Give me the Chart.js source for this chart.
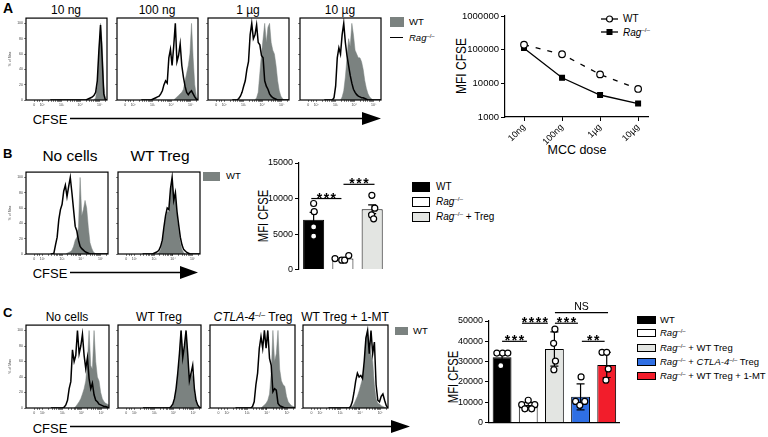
<!DOCTYPE html>
<html>
<head>
<meta charset="utf-8">
<title>CFSE dilution</title>
<script src="https://cdn.jsdelivr.net/npm/chart.js@4.4.1/dist/chart.umd.min.js"></script>
<style>
  html, body { margin: 0; padding: 0; }
  body { width: 768px; height: 437px; position: relative; overflow: hidden; background: #fff;
         font-family: 'Liberation Sans', Arial, Helvetica, sans-serif; color: #000; }
  .abs { position: absolute; white-space: nowrap; }
  .c { position: absolute; white-space: nowrap; line-height: 1; transform: translate(-50%, -50%); }
  .l { position: absolute; white-space: nowrap; line-height: 1; transform: translateY(-50%); }
  .panel { font-weight: bold; }
  .ytitle { position: absolute; white-space: nowrap; line-height: 1; font-size: 14px;
            transform: translate(-50%, -50%) rotate(-90deg) scaleX(0.8); }
  .sw { position: absolute; box-sizing: border-box; border: 1px solid #000; }
  sup { font-size: 62%; line-height: 0; vertical-align: 0.6em; }
</style>
</head>
<body>

<!-- panel letters -->
<div class="abs panel" style="left:3px;top:0px;font-size:14px">A</div>
<div class="abs panel" style="left:3px;top:146px;font-size:13px">B</div>
<div class="abs panel" style="left:3px;top:305px;font-size:13px">C</div>

<!-- histogram titles -->
<div class="c" style="left:66px;top:10px;font-size:12px">10 ng</div>
<div class="c" style="left:157px;top:10px;font-size:12px">100 ng</div>
<div class="c" style="left:248px;top:10px;font-size:12px">1 µg</div>
<div class="c" style="left:340px;top:10px;font-size:12px">10 µg</div>

<div class="c" style="left:70px;top:156px;font-size:15.5px">No cells</div>
<div class="c" style="left:160px;top:156px;font-size:15.5px">WT Treg</div>

<div class="c" style="left:67px;top:317px;font-size:12px">No cells</div>
<div class="c" style="left:159px;top:317px;font-size:12px">WT Treg</div>
<div class="c" style="left:253px;top:317px;font-size:12px"><i>CTLA-4</i><sup>–/–</sup> Treg</div>
<div class="c" style="left:345px;top:317px;font-size:12px">WT Treg + 1-MT</div>

<!-- histogram legends -->
<div class="abs" style="left:390px;top:17px;width:14px;height:10px;background:#7b8280"></div>
<div class="l" style="left:409px;top:22px;font-size:9.5px">WT</div>
<div class="abs" style="left:390px;top:37px;width:13px;height:1.3px;background:#000"></div>
<div class="l" style="left:409px;top:38px;font-size:9.5px"><i>Rag</i><sup>–/–</sup></div>

<div class="abs" style="left:203px;top:172px;width:17px;height:9px;background:#7b8280"></div>
<div class="l" style="left:226px;top:176px;font-size:9.5px">WT</div>

<div class="abs" style="left:395px;top:327px;width:13px;height:8px;background:#7b8280"></div>
<div class="l" style="left:413px;top:331px;font-size:9.5px">WT</div>

<!-- CFSE arrows -->
<div class="c" style="left:50px;top:119px;font-size:13px">CFSE</div>
<svg class="abs" style="left:68px;top:111px" width="315" height="16">
  <line x1="2" y1="7.5" x2="298" y2="7.5" stroke="#000" stroke-width="1.6"/>
  <polygon points="294,1 313,7.5 294,14" fill="#000"/>
</svg>
<div class="c" style="left:50px;top:273px;font-size:13px">CFSE</div>
<svg class="abs" style="left:68px;top:265px" width="132" height="16">
  <line x1="2" y1="7.5" x2="115" y2="7.5" stroke="#000" stroke-width="1.6"/>
  <polygon points="112,1 130,7.5 112,14" fill="#000"/>
</svg>
<div class="c" style="left:50px;top:428px;font-size:13px">CFSE</div>
<svg class="abs" style="left:68px;top:419px" width="344" height="16">
  <line x1="2" y1="7.5" x2="326" y2="7.5" stroke="#000" stroke-width="1.6"/>
  <polygon points="323,1 342,7.5 323,14" fill="#000"/>
</svg>

<!-- line chart texts -->
<div class="ytitle" style="left:460px;top:66px;font-size:15px">MFI CFSE</div>
<div class="c" style="left:577px;top:150px;font-size:12.5px">MCC dose</div>
<svg class="abs" style="left:600px;top:14px" width="20" height="24">
  <line x1="1" y1="5" x2="6" y2="5" stroke="#000" stroke-width="1.3"/>
  <line x1="13" y1="5" x2="18" y2="5" stroke="#000" stroke-width="1.3"/>
  <circle cx="9.5" cy="5" r="3" fill="#fff" stroke="#000" stroke-width="1.2"/>
  <line x1="1" y1="18" x2="18" y2="18" stroke="#000" stroke-width="1.3"/>
  <rect x="6.5" y="15" width="6" height="6" fill="#000"/>
</svg>
<div class="l" style="left:623px;top:19px;font-size:10px">WT</div>
<div class="l" style="left:623px;top:33px;font-size:10px"><i>Rag</i><sup>–/–</sup></div>

<!-- bar chart texts -->
<div class="ytitle" style="left:263px;top:216px">MFI CFSE</div>
<div class="sw" style="left:412px;top:182px;width:18px;height:10px;background:#000"></div>
<div class="l" style="left:436px;top:187px;font-size:10px">WT</div>
<div class="sw" style="left:412px;top:197px;width:18px;height:10px;background:#fff"></div>
<div class="l" style="left:436px;top:202px;font-size:10px"><i>Rag</i><sup>–/–</sup></div>
<div class="sw" style="left:412px;top:212px;width:18px;height:10px;background:#e3e5e2"></div>
<div class="l" style="left:436px;top:217px;font-size:10px"><i>Rag</i><sup>–/–</sup> + Treg</div>

<div class="ytitle" style="left:453px;top:377px">MFI CFSE</div>
<div class="sw" style="left:637px;top:316px;width:19px;height:8px;background:#000"></div>
<div class="l" style="left:660px;top:320px;font-size:9.5px">WT</div>
<div class="sw" style="left:637px;top:329px;width:19px;height:8px;background:#fff"></div>
<div class="l" style="left:660px;top:333px;font-size:9.5px"><i>Rag</i><sup>–/–</sup></div>
<div class="sw" style="left:637px;top:344px;width:19px;height:8px;background:#e3e5e2"></div>
<div class="l" style="left:660px;top:348px;font-size:9.5px"><i>Rag</i><sup>–/–</sup> + WT Treg</div>
<div class="sw" style="left:637px;top:358px;width:19px;height:8px;background:#2f6fe4"></div>
<div class="l" style="left:660px;top:362px;font-size:9.5px"><i>Rag</i><sup>–/–</sup> + <i>CTLA-4</i><sup>–/–</sup> Treg</div>
<div class="sw" style="left:637px;top:372px;width:19px;height:8px;background:#f21d2b"></div>
<div class="l" style="left:660px;top:376px;font-size:9.5px"><i>Rag</i><sup>–/–</sup> + WT Treg + 1-MT</div>

<script>
// ---- histogram data (CFSE channel, % of max) ----
const cfseBins = [30,32,34,36,38, 40,42,44,46,48, 50,52,54,56,58, 60,62,64,66,68, 70,72,74,76,78, 80,82,84,86,88, 90,92,94,96,98, 100];
const cfseTickAt = [10, 20, 44, 67, 91];
const cfseTickLabels = ['0', '10²', '10³', '10⁴', '10⁵'];
const pctTicks = [0, 20, 40, 60, 80, 100];

// A: MCC dose titration
const a10ngRag  = [0,0,0,0,0, 0,0,0,0,0, 0,0,0,0,0, 0,0,0,0,0, 0,0,0,1,2, 3,4,6,10,25, 65,98,55,8,0, 0];
const a10ngWT   = [0,0,0,0,0, 0,0,0,0,0, 0,0,0,0,0, 0,0,0,0,0, 0,0,0,0,0, 0,0,0,3,18, 60,100,75,20,2, 0];
const a100ngRag = [0,0,0,0,0, 0,0,1,2,3, 4,5,8,12,20, 25,22,55,66,45, 70,100,50,58,73, 45,30,18,10,7, 10,12,8,4,1, 0];
const a100ngWT  = [0,0,0,0,0, 0,0,0,0,0, 0,0,0,0,0, 0,0,0,0,0, 0,2,4,6,8, 10,14,25,35,45, 60,100,55,20,5, 0];
const a1ugRag   = [0,0,0,0,2, 5,10,18,25,40, 50,85,100,80,85, 98,75,72,58,55, 25,18,14,8,5, 3,2,1,0,0, 0,0,0,0,0, 0];
const a1ugWT    = [0,0,0,0,0, 0,0,0,0,0, 0,0,0,0,0, 3,10,35,60,80, 100,75,95,100,75, 65,60,45,25,12, 5,2,0,0,0, 0];
const a10ugRag  = [0,0,0,0,0, 0,3,18,55,68, 60,85,100,75,58, 45,32,22,14,10, 7,5,4,3,3, 2,1,0,0,0, 0,0,0,0,0, 0];
const a10ugWT   = [0,0,0,0,0, 0,0,0,0,0, 0,4,12,30,55, 80,70,100,85,65, 60,55,55,50,40, 25,15,8,4,2, 0,0,0,0,0, 0];

// B: Treg suppression
const bNoCellsRag = [0,0,1,12,22, 45,58,65,82,90, 75,88,100,80,58, 36,30,18,10,7, 5,3,2,1,0, 0,0,0,0,0, 0,0,0,0,0, 0];
const bNoCellsWT  = [0,0,0,0,0, 0,0,0,0,0, 1,2,3,5,10, 18,22,35,100,50, 58,70,60,35,15, 8,3,1,0,0, 0,0,0,0,0, 0];
const bTregRag    = [0,0,0,0,0, 0,0,1,2,3, 5,10,18,35,50, 60,58,85,100,70, 80,55,38,22,12, 6,4,2,1,0, 0,0,0,0,0, 0];
const bTregWT     = [0,0,0,0,0, 0,0,0,0,0, 2,6,15,30,45, 55,55,80,95,70, 75,50,30,15,6, 2,0,0,0,0, 0,0,0,0,0, 0];

// C: CTLA-4 / IDO
const cNoCellsRag = [0,0,0,0,0, 0,0,0,1,4, 10,25,34,75,60, 68,100,70,80,95, 68,51,65,38,25, 32,17,10,8,5, 4,3,2,2,1, 0];
const cNoCellsWT  = [0,0,0,0,0, 0,0,0,0,0, 0,0,0,0,0, 2,5,8,12,18, 25,35,60,100,55, 50,100,60,40,35, 20,12,8,6,5, 4];
const cTregRag    = [0,0,0,0,0, 0,0,0,0,0, 0,0,0,0,0, 0,0,2,5,12, 25,45,70,100,65, 80,100,70,35,45, 55,25,10,4,1, 0];
const cTregWT     = [0,0,0,0,0, 0,0,0,0,0, 0,0,0,0,0, 0,0,0,3,10, 22,40,60,100,70, 75,95,65,40,45, 40,18,8,3,1, 0];
const cCtlaRag    = [0,0,0,0,0, 0,0,0,0,0, 2,8,30,45,77, 92,77,100,77,100, 64,55,21,25,23, 6,3,2,1,0, 0,0,0,0,0, 0];
const cCtlaWT     = [0,0,0,0,0, 0,0,0,0,0, 0,0,0,0,0, 0,2,4,6,10, 18,45,100,60,70, 100,50,35,30,28, 15,8,5,3,2, 1];
const cMtRag      = [0,0,0,0,0, 0,0,0,0,0, 0,0,0,2,8, 20,35,45,40,42, 38,60,90,100,70, 100,70,85,30,10, 8,15,18,10,3, 0];
const cMtWT       = [0,0,0,0,0, 0,0,0,0,0, 0,0,0,0,2, 5,10,15,22,30, 38,55,90,100,80, 70,60,30,12,6, 5,3,2,1,0, 0];

// ---- A right: MFI vs dose ----
const doseLabels = ['10ng', '100ng', '1µg', '10µg'];
const mfiWT  = [140000, 73000, 18400, 6800];
const mfiRag = [111000, 14600, 4500, 2500];
const mfiTicks = [1000, 10000, 100000, 1000000];

// ---- B bars ----
const bGroups = ['WT', 'Rag-/-', 'Rag-/- + Treg'];
const bMeans = [7000, 1550, 8500];
const bErr = [1050, 150, 620];
const bPoints = [[9300, 8150, 6000, 4700], [1550, 1330, 1330, 1970], [10450, 8650, 7700, 7150]];
const bJitter = [[0, 0.02, 0, 0], [-0.27, -0.04, 0.06, 0.2], [-0.01, 0.09, -0.02, 0.05]];

// ---- C bars ----
const cGroups = ['WT', 'Rag-/-', 'Rag-/- + WT Treg', 'Rag-/- + CTLA-4-/- Treg', 'Rag-/- + WT Treg + 1-MT'];
const cMeans = [32200, 8700, 36200, 12700, 28400];
const cErr = [1500, 1300, 8400, 6400, 6200];
const cPoints = [[34200, 34200, 34200, 28000], [11000, 8800, 8800, 6800, 6800], [46000, 39000, 30300, 26000],
                 [22500, 10400, 8500, 10400], [34600, 34600, 26400, 20900]];
const cJitter = [[-0.2, 0.02, 0.22, -0.05], [0, -0.25, 0.25, -0.13, 0.13], [0.02, -0.03, 0.04, -0.02],
                 [0.02, -0.19, -0.03, 0.16], [-0.18, 0.0, 0.06, -0.03]];

const histGrey = '#7b8280';
const barColors = { wt: '#000000', rag: '#ffffff', treg: '#e3e5e2', ctla: '#2f6fe4', mt: '#f21d2b' };

Chart.defaults.font.family = "'Liberation Sans', Arial, sans-serif";
Chart.defaults.color = '#000';
Chart.defaults.animation = false;
Chart.defaults.events = [];
Chart.defaults.plugins.legend.display = false;
Chart.defaults.plugins.tooltip.enabled = false;

function mountCanvas(left, top, width, height) {
  const c = document.createElement('canvas');
  c.width = width;
  c.height = height;
  c.style.cssText = 'position:absolute;left:' + left + 'px;top:' + top + 'px;width:' + width + 'px;height:' + height + 'px';
  document.body.appendChild(c);
  return c;
}

// frame round the plot area of a histogram
const boxFrame = {
  id: 'boxFrame',
  afterDatasetsDraw(chart) {
    const a = chart.chartArea, ctx = chart.ctx;
    ctx.save();
    ctx.strokeStyle = '#000';
    ctx.lineWidth = 1.2;
    ctx.strokeRect(a.left, a.top, a.right - a.left, a.bottom - a.top);
    ctx.restore();
  }
};

// minor ticks for the biexponential CFSE axis
function cfseTickPositions() {
  const out = cfseTickAt.slice();
  [14, 16.5].forEach(v => out.push(v));
  for (let d = 1; d < cfseTickAt.length; d++) {
    const span = d < cfseTickAt.length - 1 ? cfseTickAt[d + 1] - cfseTickAt[d] : 24;
    for (let k = 2; k <= 9; k++) {
      const v = cfseTickAt[d] + span * Math.log10(k);
      if (v < 100) out.push(v);
    }
  }
  return out.sort((a, b) => a - b);
}

function toPoints(values) {
  return values.map((v, i) => ({ x: cfseBins[i], y: v }));
}

function drawHistogram(box, wtValues, ragValues, withLabels) {
  const padL = 18, padT = 3, padR = 3, padB = 12;
  const canvas = mountCanvas(box.x - padL, box.y - padT, box.w + padL + padR, box.h + padT + padB);
  const tickStyle = { drawOnChartArea: false, tickLength: 2, color: '#333', lineWidth: 0.6 };
  return new Chart(canvas, {
    type: 'line',
    data: {
      datasets: [
        { data: toPoints(ragValues), borderColor: '#000', borderWidth: 1.5, pointRadius: 0, fill: false, order: 1 },
        { data: toPoints(wtValues), borderColor: histGrey, borderWidth: 0.5, backgroundColor: histGrey,
          pointRadius: 0, fill: 'origin', order: 2 }
      ]
    },
    options: {
      responsive: false,
      layout: { padding: { top: padT, right: padR, left: 0, bottom: 0 } },
      scales: {
        x: {
          type: 'linear', min: 0, max: 100,
          afterBuildTicks: s => { s.ticks = cfseTickPositions().map(v => ({ value: v })); },
          afterFit: s => { s.height = padB; },
          ticks: {
            autoSkip: false, maxRotation: 0, padding: 1, color: '#444', font: { size: 3.5 },
            callback: v => { const i = cfseTickAt.indexOf(v); return i >= 0 ? cfseTickLabels[i] : ''; }
          },
          grid: tickStyle,
          border: { display: false }
        },
        y: {
          min: 0, max: 107,
          afterBuildTicks: s => { s.ticks = pctTicks.map(v => ({ value: v })); },
          afterFit: s => { s.width = padL; },
          title: { display: withLabels, text: '% of Max', font: { size: 3.5 }, padding: 0, color: '#444' },
          ticks: { display: withLabels, padding: 1, color: '#444', font: { size: 3.5 }, callback: v => String(v) },
          grid: tickStyle,
          border: { display: false }
        }
      }
    },
    plugins: [boxFrame]
  });
}

// ---- panel A histograms ----
drawHistogram({ x: 26, y: 18, w: 81, h: 82 }, a10ngWT, a10ngRag, true);
drawHistogram({ x: 117, y: 18, w: 81, h: 82 }, a100ngWT, a100ngRag, false);
drawHistogram({ x: 208, y: 18, w: 81, h: 82 }, a1ugWT, a1ugRag, false);
drawHistogram({ x: 300, y: 18, w: 81, h: 82 }, a10ugWT, a10ugRag, false);

// ---- panel B histograms ----
drawHistogram({ x: 26, y: 172, w: 82, h: 82 }, bNoCellsWT, bNoCellsRag, true);
drawHistogram({ x: 118, y: 172, w: 82, h: 82 }, bTregWT, bTregRag, false);

// ---- panel C histograms ----
drawHistogram({ x: 26, y: 325, w: 83, h: 83 }, cNoCellsWT, cNoCellsRag, true);
drawHistogram({ x: 118, y: 325, w: 83, h: 83 }, cTregWT, cTregRag, false);
drawHistogram({ x: 210, y: 325, w: 85, h: 83 }, cCtlaWT, cCtlaRag, false);
drawHistogram({ x: 303, y: 325, w: 85, h: 83 }, cMtWT, cMtRag, false);

// ---- panel A: MFI line chart ----
(function () {
  const canvas = mountCanvas(450, 5, 205, 145);
  const axisTicks = { drawOnChartArea: false, tickLength: 4, color: '#000', lineWidth: 1 };
  new Chart(canvas, {
    type: 'line',
    data: {
      datasets: [
        { data: mfiWT.map((v, i) => ({ x: i, y: v })), borderColor: '#000', borderWidth: 1.3, borderDash: [5, 7],
          pointStyle: 'circle', pointRadius: 3.3, pointBackgroundColor: '#fff', pointBorderColor: '#000', pointBorderWidth: 1.2 },
        { data: mfiRag.map((v, i) => ({ x: i, y: v })), borderColor: '#000', borderWidth: 1.3,
          pointStyle: 'rect', pointRadius: 3.3, pointBackgroundColor: '#000', pointBorderColor: '#000' }
      ]
    },
    options: {
      responsive: false,
      layout: { padding: { top: 11, right: 7, left: 0, bottom: 0 } },
      scales: {
        x: {
          type: 'linear', min: -0.5, max: 3.26,
          afterBuildTicks: s => { s.ticks = doseLabels.map((_, i) => ({ value: i })); },
          afterFit: s => { s.height = 33; },
          ticks: { minRotation: 45, maxRotation: 45, autoSkip: false, padding: 1, font: { size: 9 },
                   callback: v => doseLabels[v] },
          grid: axisTicks,
          border: { color: '#000', width: 1.2 }
        },
        y: {
          type: 'logarithmic', min: 1000, max: 1000000,
          afterBuildTicks: s => { s.ticks = mfiTicks.map(v => ({ value: v })); },
          afterFit: s => { s.width = 55; },
          ticks: { padding: 2, font: { size: 9.5 }, callback: v => String(v) },
          grid: axisTicks,
          border: { color: '#000', width: 1.2 }
        }
      }
    }
  });
})();

// ---- bar charts ----
const errorBars = {
  id: 'errorBars',
  afterDatasetDraw(chart, args, opts) {
    if (args.meta.type !== 'bar') return;
    const { ctx, scales: { x, y } } = chart;
    ctx.save();
    ctx.strokeStyle = '#000';
    ctx.lineWidth = 1.2;
    opts.means.forEach((m, i) => {
      const px = x.getPixelForValue(i);
      const top = y.getPixelForValue(m + opts.errs[i]);
      const bot = y.getPixelForValue(Math.max(0, m - opts.errs[i]));
      ctx.beginPath();
      ctx.moveTo(px, top); ctx.lineTo(px, bot);
      ctx.moveTo(px - opts.cap, top); ctx.lineTo(px + opts.cap, top);
      ctx.moveTo(px - opts.cap, bot); ctx.lineTo(px + opts.cap, bot);
      ctx.stroke();
    });
    ctx.restore();
  }
};

const sigBrackets = {
  id: 'sigBrackets',
  afterDraw(chart, args, opts) {
    const { ctx, scales: { xd, y } } = chart;
    ctx.save();
    ctx.strokeStyle = '#000';
    ctx.fillStyle = '#000';
    ctx.lineWidth = 1.2;
    ctx.textAlign = 'center';
    ctx.textBaseline = 'alphabetic';
    opts.items.forEach(b => {
      const x1 = xd.getPixelForValue(b.from), x2 = xd.getPixelForValue(b.to), py = y.getPixelForValue(b.at);
      ctx.beginPath();
      ctx.moveTo(x1, py); ctx.lineTo(x2, py);
      ctx.stroke();
      if (b.label === 'NS') {
        ctx.letterSpacing = '0px';
        ctx.font = "10.5px 'Liberation Sans', Arial, sans-serif";
        ctx.fillText(b.label, (x1 + x2) / 2, py - 2.5);
      } else {
        ctx.letterSpacing = '1.5px';
        ctx.font = "bold 14px 'Liberation Sans', Arial, sans-serif";
        ctx.fillText(b.label, (x1 + x2) / 2 + 0.75, py + 4);
      }
    });
    ctx.restore();
  }
};

function drawBars(geo, groups, means, errs, points, jitter, colors, brackets, yMax, yStep, showBase) {
  const canvas = mountCanvas(geo.left, geo.top, geo.width, geo.height);
  const dots = [];
  points.forEach((list, i) => list.forEach((v, k) => dots.push({ x: i + jitter[i][k], y: v })));
  new Chart(canvas, {
    type: 'bar',
    data: {
      labels: groups,
      datasets: [
        { type: 'bar', data: means, backgroundColor: colors, borderColor: '#000', borderWidth: 1,
          grouped: false, barPercentage: geo.barPct, categoryPercentage: 1, order: 2 },
        { type: 'scatter', xAxisID: 'xd', data: dots, pointRadius: 3, pointBackgroundColor: '#fff',
          pointBorderColor: '#000', pointBorderWidth: 1.2, order: 1 }
      ]
    },
    options: {
      responsive: false,
      layout: { padding: { top: geo.padTop, right: geo.padRight, left: 0, bottom: geo.padBottom } },
      plugins: {
        errorBars: { means: means, errs: errs, cap: 4 },
        sigBrackets: { items: brackets }
      },
      scales: {
        x: {
          type: 'category', offset: true, display: showBase, afterFit: s => { s.height = 0; },
          ticks: { display: false }, grid: { display: false, offset: true },
          border: { display: true, color: '#000', width: 1.2 }
        },
        xd: { type: 'linear', display: false, offset: false, grid: { offset: false },
              min: -0.5, max: groups.length - 0.5 },
        y: {
          min: 0, max: yMax,
          afterFit: s => { s.width = geo.axisWidth; },
          ticks: { stepSize: yStep, padding: 2, font: { size: 9 }, callback: v => String(v) },
          grid: { drawOnChartArea: false, tickLength: 4, color: '#000', lineWidth: 1 },
          border: { color: '#000', width: 1.2 }
        }
      }
    },
    plugins: [errorBars, sigBrackets]
  });
}

drawBars({ left: 255, top: 155, width: 137, height: 122, axisWidth: 44, padTop: 8, padRight: 0, padBottom: 5, barPct: 0.72 },
  bGroups, bMeans, bErr, bPoints, bJitter,
  [barColors.wt, barColors.rag, barColors.treg],
  [{ from: -0.08, to: 0.95, at: 10000, label: '***' }, { from: 1.02, to: 2.08, at: 12000, label: '***' }],
  15000, 5000, false);

drawBars({ left: 440, top: 295, width: 185, height: 135, axisWidth: 49, padTop: 26, padRight: 5, padBottom: 4, barPct: 0.72 },
  cGroups, cMeans, cErr, cPoints, cJitter,
  [barColors.wt, barColors.rag, barColors.treg, barColors.ctla, barColors.mt],
  [{ from: 0, to: 0.95, at: 40000, label: '***' }, { from: 0.76, to: 1.75, at: 48900, label: '****' },
   { from: 2.02, to: 2.9, at: 48900, label: '***' }, { from: 3.05, to: 3.92, at: 40000, label: '**' },
   { from: 2.02, to: 4.05, at: 54100, label: 'NS' }],
  50000, 10000, true);
</script>
</body>
</html>
